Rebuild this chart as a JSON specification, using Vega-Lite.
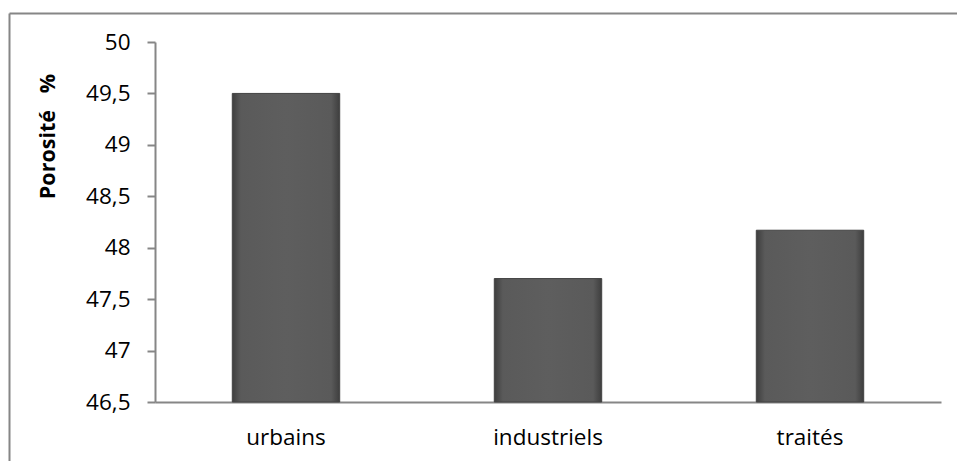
{
  "$schema": "https://vega.github.io/schema/vega-lite/v6.json",
  "autosize": {"type": "none"},
  "width": 948,
  "height": 448,
  "padding": {"left": 9, "top": 13, "right": 0, "bottom": 0},
  "background": "white",
  "config": {
    "view": {"stroke": null},
    "font": "Open Sans",
    "axis": {"labelFont": "Open Sans", "titleFont": "Open Sans"}
  },
  "data": {
    "values": [
      {"type": "urbains", "porosite": 49.5},
      {"type": "industriels", "porosite": 47.7},
      {"type": "traités", "porosite": 48.17}
    ]
  },
  "resolve": {
    "scale": {"x": "independent", "y": "independent"},
    "axis": {"x": "independent", "y": "independent"}
  },
  "layer": [
    {
      "mark": {
        "type": "bar",
        "color": {
          "gradient": "linear",
          "x1": 0, "x2": 1, "y1": 0, "y2": 0,
          "stops": [
            {"offset": 0, "color": "#3e3e3e"},
            {"offset": 0.08, "color": "#5a5a5a"},
            {"offset": 0.5, "color": "#5e5e5e"},
            {"offset": 0.92, "color": "#5a5a5a"},
            {"offset": 1, "color": "#3e3e3e"}
          ]
        },
        "stroke": "#424242",
        "strokeWidth": 1
      },
      "encoding": {
        "x": {
          "field": "type",
          "type": "nominal",
          "sort": null,
          "scale": {"range": [146, 932], "paddingInner": 0.59, "paddingOuter": 0.295},
          "axis": {
            "orient": "bottom",
            "offset": -59,
            "title": null,
            "labelAngle": 0,
            "labelFontSize": 22.5,
            "labelColor": "#000000",
            "labelPadding": 24,
            "ticks": false,
            "tickSize": 0,
            "domainColor": "#868686",
            "domainWidth": 2
          }
        },
        "y": {
          "field": "porosite",
          "type": "quantitative",
          "scale": {"domain": [46.5, 50], "nice": false, "zero": false, "range": [389, 29]},
          "axis": {
            "orient": "left",
            "offset": -146,
            "values": [46.5, 47, 47.5, 48, 48.5, 49, 49.5, 50],
            "labelExpr": "replace(toString(datum.value), '.', ',')",
            "labelFontSize": 22.5,
            "labelColor": "#000000",
            "labelPadding": 17,
            "tickSize": 8,
            "tickColor": "#868686",
            "tickWidth": 2,
            "domainColor": "#868686",
            "domainWidth": 2,
            "grid": false,
            "title": "Porosité\u00a0\u00a0\u00a0%",
            "titleFontSize": 21.5,
            "titleFontWeight": "bold",
            "titleColor": "#000000",
            "titleAngle": -90,
            "titleAlign": "center",
            "titleBaseline": "middle",
            "titleX": -107,
            "titleY": 123
          }
        },
        "y2": {"datum": 46.5}
      }
    },
    {
      "mark": {"type": "point", "opacity": 0},
      "encoding": {
        "x": {
          "field": "type",
          "type": "nominal",
          "sort": null,
          "axis": {
            "orient": "top",
            "offset": 0,
            "title": null,
            "labels": false,
            "ticks": false,
            "grid": false,
            "domainColor": "#868686",
            "domainWidth": 2
          }
        },
        "y": {
          "field": "porosite",
          "type": "quantitative",
          "scale": {"domain": [45, 51], "nice": false, "zero": false},
          "axis": {
            "orient": "left",
            "offset": 0,
            "title": null,
            "labels": false,
            "ticks": false,
            "grid": false,
            "domainColor": "#868686",
            "domainWidth": 2
          }
        }
      }
    }
  ]
}
